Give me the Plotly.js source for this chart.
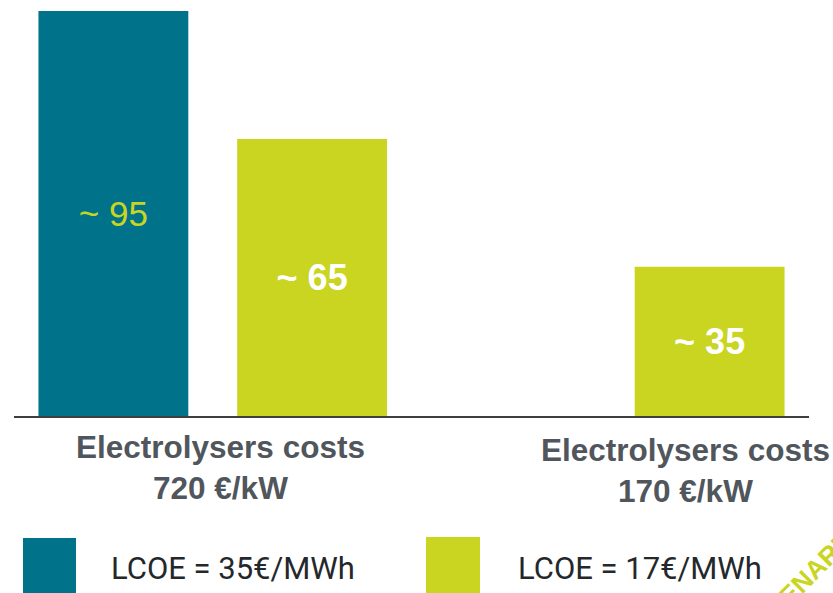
<!DOCTYPE html>
<html>
<head>
<meta charset="utf-8">
<script src="https://cdn.plot.ly/plotly-3.0.1.min.js"></script>
<style>
  html, body { margin: 0; padding: 0; background: #ffffff; }
  #chart { width: 833px; height: 593px; }
</style>
</head>
<body>
<div id="chart"></div>
<script>
// Hydrogen production cost by electrolyser cost scenario
const categories = ['Electrolysers costs<br>720 €/kW', 'Electrolysers costs<br>170 €/kW'];
const lcoe35 = [95, null];   // LCOE = 35€/MWh
const lcoe17 = [65, 35];     // LCOE = 17€/MWh
const seriesNames = ['LCOE = 35€/MWh', 'LCOE = 17€/MWh'];

const TEAL = '#00738a';
const LIME = '#c9d520';
const GREY = '#50565c';

// plot area in pixels
const W = 833, H = 593;
const M = {l: 14, r: 24, t: 11, b: 177};
const PW = W - M.l - M.r, PH = H - M.t - M.b;
const px = v => (v - M.l) / PW;
const py = v => (H - M.b - v) / PH;

const traces = [
  {
    type: 'bar', x: [0, 1], y: lcoe35, name: seriesNames[0],
    marker: {color: TEAL},
    texttemplate: '~ %{y}', textposition: 'inside', insidetextanchor: 'middle',
    textangle: 0, constraintext: 'none',
    textfont: {family: 'Liberation Sans, Arial, sans-serif', size: 35, color: LIME},
    hoverinfo: 'skip'
  },
  {
    type: 'bar', x: [0, 1], y: lcoe17, name: seriesNames[1],
    marker: {color: LIME},
    texttemplate: '<b>~ %{y}</b>', textposition: 'inside', insidetextanchor: 'middle',
    textangle: 0, constraintext: 'none',
    textfont: {family: 'Liberation Sans, Arial, sans-serif', size: 36, color: '#ffffff'},
    hoverinfo: 'skip'
  }
];

// category captions below the axis
const catPos = [{x: 220, y: 467}, {x: 685, y: 470}];
const annotations = categories.map((c, i) => ({
  text: '<b>' + c + '</b>', xref: 'paper', yref: 'paper',
  x: px(catPos[i].x), y: py(catPos[i].y), xanchor: 'center', yanchor: 'middle',
  showarrow: false, align: 'center',
  font: {family: 'Liberation Sans, Arial, sans-serif', size: 31.5, color: GREY}
}));

// legend entries
const legendItems = [
  {name: seriesNames[0], color: TEAL, sq: [23, 538, 76, 594], tx: 109},
  {name: seriesNames[1], color: LIME, sq: [426, 537, 480, 594], tx: 516}
];
const shapes = [];
legendItems.forEach(it => {
  shapes.push({type: 'rect', xref: 'paper', yref: 'paper',
    x0: px(it.sq[0]), x1: px(it.sq[2]), y0: py(it.sq[3]), y1: py(it.sq[1]),
    fillcolor: it.color, line: {width: 0}});
  annotations.push({text: it.name, xref: 'paper', yref: 'paper',
    x: px(it.tx), y: py(568), xanchor: 'left', yanchor: 'middle', showarrow: false,
    font: {family: 'Roboto, sans-serif', size: 31, color: '#25282b'}});
});

// corner stamp, running off the page edge
annotations.push({text: '<b>SCENARIO</b>', xref: 'paper', yref: 'paper',
  x: px(806), y: py(578), xanchor: 'center', yanchor: 'middle', showarrow: false,
  textangle: -45, font: {family: 'Liberation Sans, Arial, sans-serif', size: 26, color: LIME}});

const layout = {
  width: W, height: H,
  margin: M,
  paper_bgcolor: '#ffffff', plot_bgcolor: '#ffffff',
  barmode: 'group', bargap: 0, bargroupgap: 0.246,
  showlegend: false,
  xaxis: {
    type: 'linear', range: [-0.5, 1.5], showticklabels: false, ticks: '',
    showgrid: false, zeroline: false, showline: true, linecolor: '#3c4043', linewidth: 2,
    fixedrange: true
  },
  yaxis: {
    range: [0, 95], visible: false, showgrid: false, zeroline: false, fixedrange: true
  },
  annotations: annotations,
  shapes: shapes
};

Plotly.newPlot('chart', traces, layout, {displayModeBar: false, staticPlot: true});
</script>
</body>
</html>
